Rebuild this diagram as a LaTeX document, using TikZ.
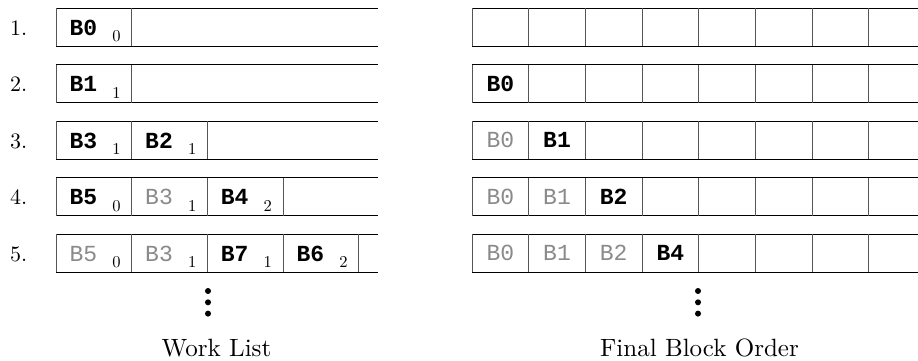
\documentclass[tikz,border=0pt]{standalone}
\usepackage{fontspec}
\setmainfont{lmroman10-regular}[Extension=.otf]
\newfontfamily\codefont{Liberation Mono}
\definecolor{oldgray}{HTML}{8A8A8A}
\definecolor{rulegray}{HTML}{555555}
\begin{document}
\begin{tikzpicture}[x=1pt,y=-1pt,
  hrule/.style={draw=black,line width=1pt},
  vrule/.style={draw=rulegray,line width=1pt},
  rownum/.style={anchor=base west,inner sep=0pt,font=\fontsize{22}{22}\selectfont},
  newblk/.style={anchor=base west,inner sep=0pt,font=\codefont\bfseries\fontsize{23}{23}\selectfont},
  oldblk/.style={anchor=base west,inner sep=0pt,text=oldgray,font=\codefont\fontsize{23}{23}\selectfont},
  newc/.style={newblk,anchor=base},
  oldc/.style={oldblk,anchor=base},
  depth/.style={anchor=base,inner sep=0pt,font=\fontsize{16.5}{16.5}\selectfont},
  caption/.style={anchor=base,inner sep=0pt,font=\fontsize{25}{25}\selectfont},
  vdot/.style={fill=black,circle,inner sep=0pt,minimum size=6pt}]
\useasboundingbox (0,0) rectangle (918,360);

% ---- work list rows (open on the right) ----
\foreach \r in {1,...,5}{
  \pgfmathsetmacro\tp{8.3+(\r-1)*56.5}
  \pgfmathsetmacro\bt{\tp+37.7}
  \draw[hrule] (56,\tp) -- (378,\tp);
  \draw[hrule] (56,\bt) -- (378,\bt);
  \node[rownum] (num\r) at (10,\tp+26.7) {\r.};
}
% cell separators of the work list
\foreach \r/\k in {1/1,2/1,3/2,4/3,5/4}{
  \pgfmathsetmacro\tp{8.3+(\r-1)*56.5}
  \foreach \c in {0,...,\k}{
    \draw[vrule] (56+\c*75.67,\tp) -- (56+\c*75.67,\tp+37.7);
  }
}

% row 1
\node[newblk] (wa1) at (69.3,35) {B0};   \node[depth] (da1) at (116.5,41.7) {0};
% row 2
\node[newblk] (wa2) at (69.3,91.5) {B1}; \node[depth] (da2) at (116.5,98.2) {1};
% row 3
\node[newblk] (wa3) at (69.3,148) {B3};  \node[depth] (da3) at (116.5,154.7) {1};
\node[newblk] (wb3) at (145,148) {B2};   \node[depth] (db3) at (192.2,154.7) {1};
% row 4
\node[newblk] (wa4) at (69.3,204.5) {B5}; \node[depth] (da4) at (116.5,211.2) {0};
\node[oldblk] (wb4) at (145,204.5) {B3};  \node[depth] (db4) at (192.2,211.2) {1};
\node[newblk] (wc4) at (220.6,204.5) {B4};\node[depth] (dc4) at (267.8,211.2) {2};
% row 5
\node[oldblk] (wa5) at (69.3,261) {B5};   \node[depth] (da5) at (116.5,267.7) {0};
\node[oldblk] (wb5) at (145,261) {B3};    \node[depth] (db5) at (192.2,267.7) {1};
\node[newblk] (wc5) at (220.6,261) {B7};  \node[depth] (dc5) at (267.8,267.7) {1};
\node[newblk] (wd5) at (296.3,261) {B6};  \node[depth] (dd5) at (343.5,267.7) {2};

% ---- final block order grid ----
\foreach \r in {1,...,5}{
  \pgfmathsetmacro\tp{8.3+(\r-1)*56.5}
  \pgfmathsetmacro\bt{\tp+37.7}
  \draw[hrule] (472,\tp) -- (918,\tp);
  \draw[hrule] (472,\bt) -- (918,\bt);
  \foreach \c in {0,...,7}{
    \draw[vrule] (472+\c*56.67,\tp) -- (472+\c*56.67,\bt);
  }
}
\node[newc] (fa2) at (500.3,91.2) {B0};
\node[oldc] (fa3) at (500.3,147.7) {B0};
\node[newc] (fb3) at (557,147.7) {B1};
\node[oldc] (fa4) at (500.3,204.2) {B0};
\node[oldc] (fb4) at (557,204.2) {B1};
\node[newc] (fc4) at (613.7,204.2) {B2};
\node[oldc] (fa5) at (500.3,260.7) {B0};
\node[oldc] (fb5) at (557,260.7) {B1};
\node[oldc] (fc5) at (613.7,260.7) {B2};
\node[newc] (fd5) at (670.3,260.7) {B4};

% ---- continuation dots and captions ----
\node[vdot] (wdot1) at (208,291) {};
\node[vdot] (wdot2) at (208,302.3) {};
\node[vdot] (wdot3) at (208,313.6) {};
\node[vdot] (fdot1) at (698,291) {};
\node[vdot] (fdot2) at (698,302.3) {};
\node[vdot] (fdot3) at (698,313.6) {};
\node[caption] (wcap) at (216.5,356) {Work List};
\node[caption] (fcap) at (699.5,356) {Final Block Order};
\end{tikzpicture}
\end{document}
